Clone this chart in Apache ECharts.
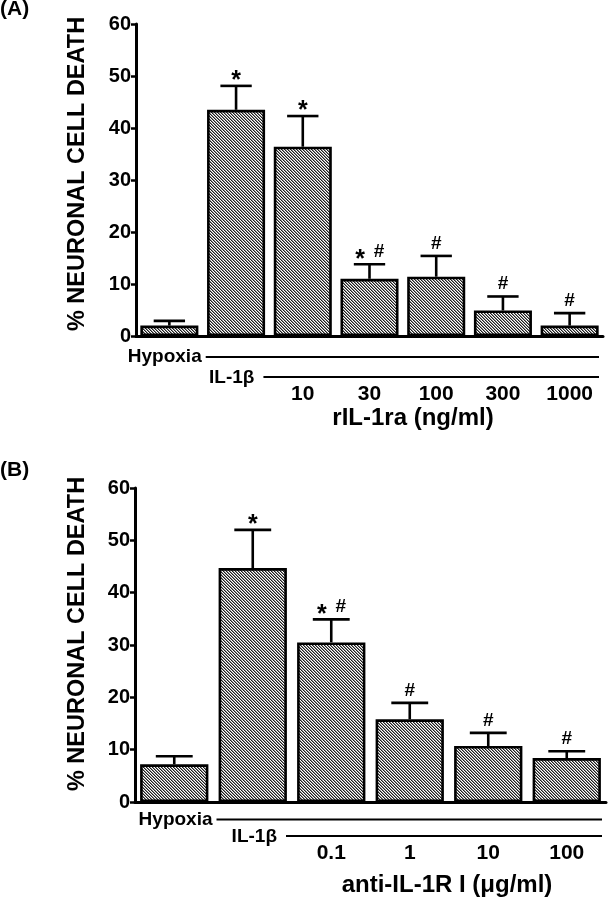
<!DOCTYPE html>
<html>
<head>
<meta charset="utf-8">
<script src="https://cdn.jsdelivr.net/npm/echarts@6/dist/echarts.min.js"></script>
<style>
html,body{margin:0;padding:0;background:#fff;}
#c{width:608px;height:899px;}
</style>
</head>
<body>
<div id="c"></div>
<script>
// ---------- data ----------
const categoriesA = ['', '', '10', '30', '100', '300', '1000'];
const valuesA = [2.0, 43.5, 36.4, 11.0, 11.4, 4.9, 2.0];
const errorsA = [0.9, 4.6, 5.9, 2.8, 4.0, 2.7, 2.4];
const sigA = ['', '*', '*', '* #', '#', '#', '#'];

const categoriesB = ['', '', '0.1', '1', '10', '100'];
const valuesB = [7.2, 44.7, 30.5, 15.8, 10.7, 8.4];
const errorsB = [1.55, 7.3, 4.4, 3.15, 2.5, 1.3];
const sigB = ['', '*', '* #', '#', '#', '#'];

const yTicks = [0, 10, 20, 30, 40, 50, 60];
const rowLabels = ['Hypoxia', 'IL-1\u03b2'];
const xTitleA = 'rIL-1ra (ng/ml)';
const xTitleB = 'anti-IL-1R I (\u03bcg/ml)';
const yTitle = '% NEURONAL CELL DEATH';

// ---------- style ----------
const FONT = "'Liberation Sans', Arial, Helvetica, sans-serif";

function makeHatch() {
  const n = 6;
  const c = document.createElement('canvas');
  c.width = n; c.height = n;
  const ctx = c.getContext('2d');
  const img = ctx.createImageData(n, n);
  for (let y = 0; y < n; y++) {
    for (let x = 0; x < n; x++) {
      const d = (((x - y) % 3) + 3) % 3;
      const v = d === 0 ? 30 : (d === 1 ? 140 : 255);
      const k = (y * n + x) * 4;
      img.data[k] = v; img.data[k + 1] = v; img.data[k + 2] = v; img.data[k + 3] = 255;
    }
  }
  ctx.putImageData(img, 0, 0);
  return c;
}
const hatch = makeHatch();

const BAR_GAP = 0.13;

function errRender(sigs) {
  return function (params, api) {
    const i = api.value(0), v = api.value(1), e = api.value(2);
    const base = api.coord([i, v]);
    const top = api.coord([i, v + e]);
    const band = api.size([1, 0])[0];
    const capW = band * (1 - BAR_GAP) * 0.54;
    const children = [
      { type: 'line', shape: { x1: base[0], y1: base[1], x2: top[0], y2: top[1] },
        style: { stroke: '#000', lineWidth: 2.6 } },
      { type: 'line', shape: { x1: top[0] - capW / 2, y1: top[1], x2: top[0] + capW / 2, y2: top[1] },
        style: { stroke: '#000', lineWidth: 2.6 } }
    ];
    const toks = (sigs[i] || '').split(' ').filter(s => s);
    toks.forEach((t, k) => {
      const dx = (k - (toks.length - 1) / 2) * 19;
      children.push({
        type: 'text',
        style: {
          text: t, x: top[0] + dx, y: t === '*' ? top[1] + 8 : top[1] - 3,
          align: 'center', verticalAlign: 'bottom',
          font: 'bold ' + (t === '*' ? 25 : 19) + 'px ' + FONT, fill: '#000'
        }
      });
    });
    return { type: 'group', children };
  };
}

function xAxisCfg(gridIndex, cats, margin) {
  return {
    type: 'category', gridIndex, data: cats,
    axisLine: { show: true, onZero: false, lineStyle: { color: '#000', width: 3 } },
    axisTick: { show: false },
    axisLabel: { margin, color: '#000', fontFamily: FONT, fontWeight: 'bold', fontSize: 21, interval: 0 },
    splitLine: { show: false }
  };
}
function yAxisCfg(gridIndex) {
  return {
    type: 'value', gridIndex, min: yTicks[0], max: yTicks[yTicks.length - 1], interval: 10,
    axisLine: { show: true, lineStyle: { color: '#000', width: 3 } },
    axisTick: { show: true, length: 5, lineStyle: { color: '#000', width: 2.5 } },
    axisLabel: { margin: 5, color: '#000', fontFamily: FONT, fontWeight: 'bold', fontSize: 20 },
    splitLine: { show: false }
  };
}

function barSeries(idx, vals) {
  return {
    type: 'bar', xAxisIndex: idx, yAxisIndex: idx, data: vals,
    barCategoryGap: (BAR_GAP * 100) + '%',
    itemStyle: { color: { image: hatch, repeat: 'repeat' }, borderColor: '#000', borderWidth: 2.6 },
    silent: true, animation: false
  };
}
function errSeries(idx, vals, errs, sigs) {
  return {
    type: 'custom', xAxisIndex: idx, yAxisIndex: idx, z: 5,
    data: vals.map((v, i) => [i, v, errs[i]]),
    encode: { x: 0, y: 1 },
    renderItem: errRender(sigs),
    silent: true, animation: false
  };
}

const chart = echarts.init(document.getElementById('c'), null, { renderer: 'canvas' });
const option = {
  animation: false,
  backgroundColor: '#fff',
  grid: [
    { left: 136, top: 24, right: 5, height: 312 },
    { left: 135, top: 488, right: 2, height: 314 }
  ],
  xAxis: [xAxisCfg(0, categoriesA, 48), xAxisCfg(1, categoriesB, 41)],
  yAxis: [yAxisCfg(0), yAxisCfg(1)],
  series: [
    barSeries(0, valuesA), errSeries(0, valuesA, errorsA, sigA),
    barSeries(1, valuesB), errSeries(1, valuesB, errorsB, sigB)
  ]
};
chart.setOption(option);

// ---------- annotations below the axes ----------
function panelGraphics(idx, nCats, offs) {
  const p0 = chart.convertToPixel({ xAxisIndex: idx, yAxisIndex: idx }, [0, 0]);
  const p1 = chart.convertToPixel({ xAxisIndex: idx, yAxisIndex: idx }, [1, 0]);
  const band = p1[0] - p0[0];
  const b0 = p0[0] + band / 2;
  const b1 = b0 + band;
  const axisEnd = p0[0] - band / 2 + band * nCats;
  const y0 = p0[1];
  const txt = (t, x, y, size, align) => ({
    type: 'text', x, y,
    style: { text: t, align: align, verticalAlign: 'middle', font: 'bold ' + size + 'px ' + FONT, fill: '#000' }
  });
  const ln = (x1, x2, y) => ({ type: 'line', shape: { x1, y1: y, x2, y2: y }, style: { stroke: '#000', lineWidth: 2.2 } });
  return [
    txt(rowLabels[0], b0 - 1, y0 + offs[0], 19, 'right'),
    ln(b0 + 3, axisEnd - 4, y0 + offs[0]),
    txt(rowLabels[1], b1 - 15, y0 + offs[1] + 1, 19, 'right'),
    ln(b1 - 6, axisEnd - 4, y0 + offs[1])
  ];
}

const g = [];
g.push(...panelGraphics(0, categoriesA.length, [21, 41]));
g.push(...panelGraphics(1, categoriesB.length, [17.5, 34]));
g.push({ type: 'text', x: 0, y: 9, style: { text: '(A)', verticalAlign: 'middle', font: 'bold 21px ' + FONT, fill: '#000' } });
g.push({ type: 'text', x: 0, y: 470, style: { text: '(B)', verticalAlign: 'middle', font: 'bold 21px ' + FONT, fill: '#000' } });
g.push({ type: 'text', x: 78, y: 174, rotation: Math.PI / 2,
  style: { text: yTitle, align: 'center', verticalAlign: 'middle', font: 'bold 23.5px ' + FONT, fill: '#000' } });
g.push({ type: 'text', x: 78, y: 634, rotation: Math.PI / 2,
  style: { text: yTitle, align: 'center', verticalAlign: 'middle', font: 'bold 23.5px ' + FONT, fill: '#000' } });
g.push({ type: 'text', x: 413, y: 418,
  style: { text: xTitleA, align: 'center', verticalAlign: 'middle', font: 'bold 24px ' + FONT, fill: '#000' } });
g.push({ type: 'text', x: 447, y: 885,
  style: { text: xTitleB, align: 'center', verticalAlign: 'middle', font: 'bold 24px ' + FONT, fill: '#000' } });

chart.setOption({ graphic: g });
</script>
</body>
</html>
